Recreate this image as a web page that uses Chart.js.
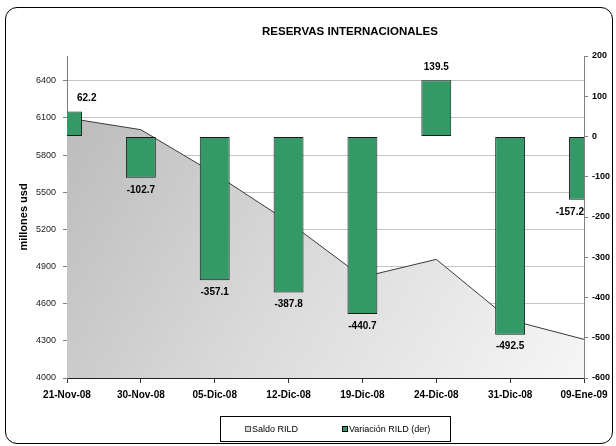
<!DOCTYPE html>
<html>
<head>
<meta charset="utf-8">
<script src="https://cdn.jsdelivr.net/npm/chart.js@4"></script>
<style>
  body { margin: 0; background: #fff; }
  #wrap { position: relative; width: 616px; height: 446px; }
  #frame { position: absolute; left: 5px; top: 7px; width: 608px; height: 437px; box-sizing: border-box;
           border: 1px solid #000; border-radius: 12px; pointer-events: none; }
</style>
</head>
<body>
<div id="wrap">
  <canvas id="chartContainer" width="616" height="446"></canvas>
  <div id="frame"></div>
</div>
<script>
const categories = ['21-Nov-08', '30-Nov-08', '05-Dic-08', '12-Dic-08', '19-Dic-08', '24-Dic-08', '31-Dic-08', '09-Ene-09'];
const saldo = [6100, 6005, 5650, 5260, 4815, 4958, 4468, 4312];
const variacion = [62.2, -102.7, -357.1, -387.8, -440.7, 139.5, -492.5, -157.2];
const leftTickValues = [4000, 4300, 4600, 4900, 5200, 5500, 5800, 6100, 6400];
const leftMax = 6600;
const rightTickValues = [-600, -500, -400, -300, -200, -100, 0, 100, 200];

const FONT = "'Liberation Sans', Arial, sans-serif";

// title, bar labels and the boxed legend
const extras = {
    id: 'extras',
    afterDatasetsDraw(chart) {
        const ctx = chart.ctx;
        const area = chart.chartArea;
        const meta = chart.getDatasetMeta(1);
        ctx.save();
        ctx.font = 'bold 10px ' + FONT;
        ctx.fillStyle = '#000';
        ctx.textAlign = 'center';
        ctx.textBaseline = 'middle';
        meta.data.forEach((bar, i) => {
            const v = variacion[i];
            const txt = v.toFixed(1);
            const w = ctx.measureText(txt).width;
            let x = bar.x;
            x = Math.max(x, area.left + 10 + w / 2);
            x = Math.min(x, area.right - w / 2);
            const y = v >= 0 ? bar.y - 13 : bar.y + 12;
            ctx.fillText(txt, x, y);
        });
        ctx.restore();
    },
    afterDraw(chart) {
        const ctx = chart.ctx;
        ctx.save();
        ctx.font = 'bold 11.5px ' + FONT;
        ctx.fillStyle = '#000';
        ctx.textAlign = 'center';
        ctx.textBaseline = 'middle';
        ctx.fillText('RESERVAS INTERNACIONALES', 350, 32);

        // legend box
        ctx.fillStyle = '#fff';
        ctx.fillRect(220.5, 416.5, 230, 25);
        ctx.strokeStyle = '#000';
        ctx.lineWidth = 1;
        ctx.strokeRect(220.5, 416.5, 230, 25);
        ctx.font = '9px ' + FONT;
        ctx.textAlign = 'left';
        const items = [
            { label: chart.data.datasets[0].label, fill: '#d8d8d8', x: 245 },
            { label: chart.data.datasets[1].label, fill: '#339966', x: 342 }
        ];
        items.forEach(it => {
            ctx.fillStyle = it.fill;
            ctx.fillRect(it.x + 0.5, 426.5, 5, 5);
            ctx.strokeStyle = it.fill === '#339966' ? '#000' : '#555';
            ctx.strokeRect(it.x + 0.5, 426.5, 5, 5);
            ctx.fillStyle = '#000';
            ctx.fillText(it.label, it.x + 7, 429.5);
        });
        ctx.restore();
    }
};

const ctx = document.getElementById('chartContainer').getContext('2d');

new Chart(ctx, {
    type: 'bar',
    data: {
        labels: categories,
        datasets: [{
            type: 'line',
            label: 'Saldo RILD',
            data: saldo,
            yAxisID: 'y',
            order: 2,
            borderColor: '#3a3a3a',
            borderWidth: 1,
            pointRadius: 0,
            tension: 0,
            fill: 'start',
            backgroundColor: function(context) {
                const a = context.chart.chartArea;
                if (!a) return '#d0d0d0';
                const g = context.chart.ctx.createLinearGradient(a.left, a.top, a.right, a.bottom);
                g.addColorStop(0, '#b8b8b8');
                g.addColorStop(0.5, '#dadada');
                g.addColorStop(1, '#f6f6f6');
                return g;
            }
        }, {
            label: 'Variación RILD (der)',
            data: variacion,
            yAxisID: 'y1',
            order: 1,
            backgroundColor: '#339966',
            borderColor: '#1a1a1a',
            borderWidth: 1,
            borderSkipped: false,
            categoryPercentage: 1,
            barPercentage: 0.405
        }]
    },
    options: {
        responsive: false,
        animation: false,
        events: [],
        layout: { padding: { top: 56, left: 0, right: 0, bottom: 0 } },
        plugins: {
            legend: { display: false },
            title: { display: false },
            tooltip: { enabled: false }
        },
        scales: {
            x: {
                offset: false,
                grid: { offset: false, drawOnChartArea: false, tickLength: 5, tickColor: '#333' },
                border: { color: '#222', width: 1 },
                ticks: { autoSkip: false, maxRotation: 0, padding: 6, color: '#000', font: { family: FONT, size: 10, weight: 'bold' } },
                afterFit(scale) { scale.height = 68; }
            },
            y: {
                position: 'left',
                min: leftTickValues[0],
                max: leftMax,
                ticks: { padding: 7, color: '#222', font: { family: FONT, size: 9 }, callback: v => String(v) },
                afterBuildTicks(scale) { scale.ticks = leftTickValues.map(v => ({ value: v })); },
                grid: { color: '#c4c4c4', tickLength: 4, tickColor: '#808080' },
                border: { color: '#808080', width: 1 },
                title: { display: true, text: 'millones usd', color: '#000', padding: { top: 17, bottom: 0 },
                         font: { family: FONT, size: 11, weight: 'bold' } },
                afterFit(scale) { scale.width = 67; }
            },
            y1: {
                position: 'right',
                min: rightTickValues[0],
                max: rightTickValues[rightTickValues.length - 1],
                ticks: { padding: 4, color: '#000', font: { family: FONT, size: 9, weight: 'bold' } },
                afterBuildTicks(scale) { scale.ticks = rightTickValues.map(v => ({ value: v })); },
                grid: { drawOnChartArea: false, tickLength: 4, tickColor: '#808080' },
                border: { color: '#808080', width: 1 },
                afterFit(scale) { scale.width = 32; }
            }
        }
    },
    plugins: [extras]
});
</script>
</body>
</html>
